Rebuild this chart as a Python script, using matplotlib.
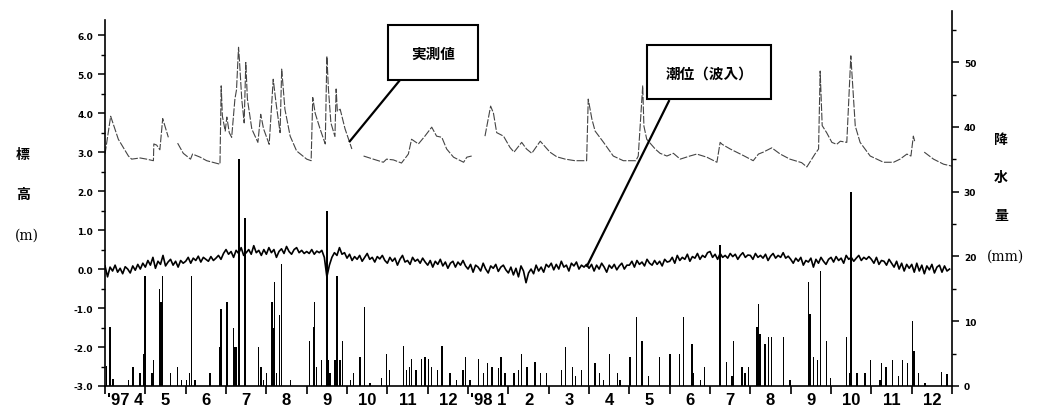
import numpy as np
import matplotlib
matplotlib.use("Agg")
import matplotlib.pyplot as plt
from matplotlib.patches import Rectangle

plt.rcParams['font.family'] = ['Noto Sans CJK JP', 'DejaVu Sans']

# time axis in months counted from 1 Apr 1997 (0) to 31 Dec 1998 (21)
month_labels = ["'97 4", "5", "6", "7", "8", "9", "10", "11", "12",
                "'98 1", "2", "3", "4", "5", "6", "7", "8", "9", "10", "11", "12"]

# measured groundwater level (m), NaN = missing record
meas_x = [0, 0.14, 0.33, 0.58, 0.66, 0.87, 1.03, 1.2, 1.21, 1.28, 1.36, 1.43, 1.57, 1.68,
          1.8, 1.94, 2.12, 2.17, 2.36, 2.52, 2.85, 2.88, 2.91, 2.98, 3.02, 3.08, 3.14, 3.22,
          3.26, 3.31, 3.33, 3.39, 3.45, 3.49, 3.53, 3.64, 3.79, 3.86, 3.93, 4.07, 4.17, 4.24,
          4.34, 4.38, 4.46, 4.59, 4.75, 5.0, 5.11, 5.15, 5.21, 5.33, 5.46, 5.5, 5.54, 5.6,
          5.7, 5.73, 5.76, 5.83, 5.95, 6.12, 6.25,
          6.41, 6.65, 6.9, 6.98, 7.15, 7.35, 7.52, 7.6, 7.77, 7.93, 8.1, 8.22, 8.35, 8.47,
          8.64, 8.89, 8.97, 9.09, 9.25,
          9.42, 9.56, 9.63, 9.71, 9.88, 10.04, 10.14, 10.33, 10.45, 10.58, 10.79, 11.03,
          11.2, 11.41, 11.65, 11.94, 11.98, 12.07, 12.15, 12.36, 12.6, 12.85, 13.16, 13.22,
          13.33, 13.36, 13.43, 13.64, 13.76, 13.93, 14.09, 14.26, 14.5, 14.67, 14.92, 15.17,
          15.25, 15.3, 15.5, 15.83, 16.07, 16.2, 16.32, 16.53, 16.74, 16.98, 17.27, 17.4,
          17.6, 17.69, 17.73, 17.78, 17.89, 18.02, 18.14, 18.23, 18.39, 18.49, 18.54, 18.6,
          18.72, 18.97, 19.3, 19.55, 19.71, 19.88, 19.98, 20.04, 20.08, 20.2,
          20.31, 20.54, 20.79, 21.0]
meas_y = [2.95, 3.92, 3.33, 2.9, 2.82, 2.85, 2.82, 2.78, 3.21, 3.18, 3.06, 3.86, 3.38, np.nan,
          3.23, 2.97, 2.82, 2.95, 2.87, 2.78, 2.69, 4.70, 3.92, 3.54, 3.9, 3.5, 3.38, 4.36,
          4.6, 5.69, 5.4, 4.36, 3.75, 5.3, 4.36, 3.59, 3.25, 3.97, 3.6, 3.2, 4.87, 4.26,
          3.5, 5.13, 4.1, 3.41, 3.03, 2.82, 2.78, 4.4, 4.0, 3.6, 3.21, 5.46, 4.6, 3.75,
          3.4, 4.62, 4.05, 4.1, 3.6, 3.08, np.nan,
          2.9, 2.82, 2.74, 2.82, 2.8, 2.72, 2.95, 3.33, 3.21, 3.41, 3.64, 3.41, 3.38, 3.08,
          2.87, 2.74, 2.87, 2.9, np.nan,
          3.41, 4.18, 4.0, 3.5, 3.41, 3.12, 3.0, 3.25, 3.08, 2.97, 3.28, 3.0,
          2.88, 2.82, 2.78, 2.78, 4.36, 3.85, 3.54, 3.25, 2.9, 2.78, 2.78, 2.9,
          4.7, 3.67, 3.33, 3.08, 2.97, 2.9, 2.97, 2.82, 2.9, 2.95, 2.87, 2.74,
          3.25, 3.2, 3.08, 2.91, 2.78, 2.95, 3.0, 3.11, 2.95, 2.82, 2.73, 2.62,
          2.95, 3.08, 5.08, 3.68, 3.5, 3.25, 3.2, 3.28, 3.25, 5.47, 4.65, 3.67,
          3.25, 2.9, 2.74, 2.74, 2.82, 2.95, 2.9, 3.41, 3.25, np.nan,
          3.0, 2.82, 2.69, 2.64]

# tide level (m), sixteen readings per month
tide_y = [
    0.08, -0.2, 0.05, -0.05, 0.1, -0.08, 0.02, -0.12, 0.06, 0.0, -0.1, 0.08, -0.03, 0.12, 0.0, 0.15,   # Apr 97
    0.05, 0.22, 0.1, 0.3, 0.02, 0.2, 0.12, 0.35, 0.08, 0.18, 0.25, 0.1, 0.2, 0.05, 0.22, 0.15,          # May
    0.2, 0.3, 0.15, 0.28, 0.22, 0.33, 0.18, 0.3, 0.25, 0.2, 0.32, 0.22, 0.28, 0.35, 0.25, 0.4,          # Jun
    0.5, 0.38, 0.45, 0.3, 0.48, 0.4, 0.55, 0.35, 0.42, 0.5, 0.38, 0.6, 0.42, 0.48, 0.35, 0.5,           # Jul
    0.38, 0.55, 0.42, 0.5, 0.3, 0.45, 0.52, 0.4, 0.58, 0.45, 0.38, 0.5, 0.55, 0.42, 0.48, 0.4,          # Aug
    0.45, 0.4, 0.5, 0.38, 0.46, 0.42, 0.48, 0.3, -0.2, 0.1, 0.3, 0.42, 0.35, 0.55, 0.38, 0.42,          # Sep
    0.28, 0.38, 0.22, 0.32, 0.25, 0.35, 0.2, 0.3, 0.4, 0.25, 0.3, 0.18, 0.32, 0.26, 0.35, 0.22,         # Oct
    0.15, 0.3, 0.2, 0.28, 0.1, 0.25, 0.35, 0.18, 0.22, 0.12, 0.3, 0.2, 0.25, 0.15, 0.28, 0.18,          # Nov
    0.1, 0.22, 0.05, 0.2, 0.12, 0.25, 0.08, 0.18, 0.02, 0.15, 0.2, 0.05, 0.18, 0.1, 0.22, 0.08,         # Dec
    0.0, 0.12, -0.08, 0.1, 0.05, -0.05, 0.15, 0.0, -0.1, 0.08, 0.02, 0.12, -0.06, 0.05, 0.1, -0.02,     # Jan 98
    -0.1, 0.05, -0.15, 0.02, -0.2, 0.08, -0.05, -0.35, -0.1, 0.0, -0.12, 0.1, -0.05, 0.05, -0.08, 0.12, # Feb
    0.05, 0.15, -0.02, 0.12, 0.0, 0.2, 0.05, 0.1, -0.05, 0.15, 0.08, 0.18, 0.0, 0.1, 0.05, 0.12,        # Mar
    0.02, 0.12, -0.05, 0.1, 0.0, 0.15, 0.05, -0.08, 0.1, 0.02, 0.12, -0.02, 0.08, 0.15, 0.0, 0.1,       # Apr
    0.1, 0.2, 0.05, 0.22, 0.12, 0.18, 0.08, 0.25, 0.15, 0.1, 0.22, 0.12, 0.2, 0.08, 0.25, 0.18,         # May
    0.2, 0.3, 0.15, 0.35, 0.22, 0.3, 0.25, 0.38, 0.2, 0.32, 0.28, 0.4, 0.25, 0.35, 0.3, 0.42,           # Jun
    0.45, 0.3, 0.38, 0.25, 0.4, 0.3, 0.35, 0.28, 0.4, 0.32, 0.38, 0.25, 0.35, 0.42, 0.3, 0.36,          # Jul
    0.35, 0.25, 0.4, 0.3, 0.35, 0.28, 0.38, 0.22, 0.33, 0.4, 0.28, 0.35, 0.3, 0.42, 0.28, 0.33,         # Aug
    0.25, 0.15, 0.28, 0.2, 0.3, 0.1, 0.22, 0.18, 0.28, 0.05, 0.25, 0.15, 0.3, 0.2, 0.12, 0.25,          # Sep
    0.3, 0.18, 0.32, 0.22, 0.28, 0.15, 0.35, 0.25, 0.3, 0.2, 0.28, 0.35, 0.22, 0.3, 0.25, 0.32,         # Oct
    0.25, 0.15, 0.3, 0.12, 0.22, 0.2, 0.1, 0.25, 0.15, 0.05, 0.2, 0.0, 0.15, -0.05, 0.12, 0.02,         # Nov
    0.12, -0.08, 0.15, -0.05, 0.1, -0.12, 0.08, -0.02, 0.12, -0.1, 0.05, 0.1, -0.08, 0.08, -0.05, 0.0,  # Dec
]
tide_x = np.arange(len(tide_y)) / 16.0

# daily rainfall (mm)
rain_x = [0.04, 0.12, 0.2, 0.58, 0.69, 0.87, 0.96, 0.99,
          1.16, 1.2, 1.35, 1.39, 1.41, 1.43, 1.63, 1.8, 1.9,
          2.02, 2.1, 2.15, 2.23, 2.6, 2.85, 2.88,
          3.02, 3.18, 3.2, 3.23, 3.26, 3.32, 3.47, 3.8, 3.87, 3.93,
          4.0, 4.14, 4.17, 4.2, 4.25, 4.33, 4.38, 4.6,
          5.07, 5.17, 5.2, 5.25, 5.37, 5.5, 5.53, 5.58, 5.7, 5.75, 5.83, 5.89,
          6.08, 6.16, 6.32, 6.43, 6.57, 6.86, 6.98,
          7.05, 7.4, 7.48, 7.55, 7.6, 7.71, 7.85, 7.93,
          8.02, 8.1, 8.24, 8.35, 8.55, 8.72, 8.87, 8.93,
          9.05, 9.26, 9.38, 9.48, 9.59, 9.75, 9.82, 9.92,
          10.14, 10.25, 10.33, 10.46, 10.66, 10.79, 10.95,
          11.31, 11.41, 11.59, 11.67, 11.82, 11.99,
          12.15, 12.26, 12.36, 12.51, 12.7, 12.77,
          13.02, 13.18, 13.31, 13.47, 13.74,
          14.01, 14.24, 14.34, 14.55, 14.59, 14.76, 14.86,
          15.25, 15.41, 15.54, 15.58, 15.79, 15.87, 15.95,
          16.16, 16.2, 16.24, 16.36, 16.45, 16.53, 16.82, 16.98,
          17.44, 17.48, 17.56, 17.66, 17.74, 17.89, 17.98,
          18.39, 18.47, 18.49, 18.64, 18.84, 18.98,
          19.21, 19.25, 19.36, 19.53, 19.67, 19.77, 19.9,
          20.02, 20.06, 20.17, 20.33, 20.74, 20.87]
rain_mm = [3.1, 9.1, 1.1, 1.0, 3.0, 2.0, 4.9, 17.0,
           2.0, 4.0, 15.0, 13.0, 8.5, 17.0, 2.0, 3.0, 1.0,
           1.0, 2.0, 17.0, 1.0, 2.0, 6.0, 11.9,
           13.0, 9.0, 6.0, 6.0, 6.0, 35.0, 26.0, 6.0, 3.0, 1.0,
           2.0, 13.0, 9.0, 16.0, 2.0, 10.9, 18.8, 1.0,
           7.0, 9.1, 13.0, 3.0, 4.0, 27.0, 4.0, 2.0, 4.0, 17.0, 4.0, 7.0,
           1.0, 2.0, 4.5, 12.2, 0.5, 1.2, 4.9,
           2.5, 6.2, 2.5, 3.0, 4.1, 2.5, 4.1, 4.5,
           4.1, 3.0, 2.5, 6.2, 2.0, 1.0, 2.5, 4.5,
           1.0, 4.1, 2.0, 3.5, 3.0, 2.8, 4.5, 2.0,
           2.0, 2.5, 4.9, 3.0, 3.7, 2.0, 2.0,
           2.5, 6.0, 3.0, 1.5, 2.5, 9.1,
           3.5, 2.0, 1.0, 4.9, 2.0, 1.0,
           4.5, 10.6, 7.0, 1.5, 4.5,
           4.9, 4.9, 10.6, 6.5, 2.0, 1.0, 3.0,
           21.7, 3.7, 1.5, 7.0, 3.0, 2.0, 3.0,
           9.1, 12.7, 8.0, 6.5, 7.5, 7.5, 7.5, 1.0,
           16.0, 11.1, 4.5, 4.0, 17.8, 7.0, 1.2,
           7.5, 2.0, 30.0, 2.0, 2.0, 4.0,
           1.0, 3.5, 3.0, 4.0, 1.5, 4.0, 3.5,
           10.0, 5.4, 2.0, 0.5, 2.2, 1.8]

fig = plt.figure(figsize=(10.46, 4.10), dpi=100)
ax = fig.add_axes([0.1004, 0.0561, 0.8098, 0.9146])
ax2 = ax.twinx()

ax2.bar(rain_x, rain_mm, width=0.035, color='black', linewidth=0)
ax.plot(meas_x, meas_y, color='#444444', lw=0.8, linestyle=(0, (7, 1.5)))
ax.plot(tide_x, tide_y, color='black', lw=1.2)

ax.set_xlim(0, 21)
ax.set_ylim(-3, 6.62)
ax2.set_ylim(0, 57.9)

for a in (ax, ax2):
    a.spines['top'].set_visible(False)
    for s in ('left', 'right', 'bottom'):
        a.spines[s].set_linewidth(1.2)
ax.spines['left'].set_bounds(-3, 6.38)
ax.spines['right'].set_visible(False)
ax2.spines['left'].set_visible(False)
ax2.spines['bottom'].set_visible(False)

# x axis: ticks on month boundaries, labels in the middle of each month
ax.set_xticks(np.arange(0, 22))
ax.set_xticklabels([])
ax.set_xticks(np.arange(21) + 0.5, minor=True)
ax.set_xticklabels(month_labels, minor=True, fontsize=12, fontweight='bold',
                   family=['Liberation Sans', 'DejaVu Sans'])
ax.tick_params(axis='x', which='major', direction='out', length=6, width=1.2)
ax.tick_params(axis='x', which='minor', length=0, pad=4)

ax.set_yticks(np.arange(-3, 7))
ax.set_yticklabels(['%.1f' % v for v in np.arange(-3, 7)], fontsize=6.5,
                   fontweight='bold', family=['DejaVu Sans'])
ax.set_yticks(np.arange(-2.5, 6.5, 1.0), minor=True)
ax.tick_params(axis='y', which='major', direction='out', length=5, width=1.1)
ax.tick_params(axis='y', which='minor', direction='out', length=3, width=1.0)

ax2.set_yticks(np.arange(0, 60, 10))
ax2.set_yticklabels([str(v) for v in range(0, 60, 10)], fontsize=6.5,
                    fontweight='bold', family=['DejaVu Sans'])
ax2.set_yticks(np.arange(5, 60, 10), minor=True)
ax2.tick_params(axis='y', which='major', direction='out', length=5, width=1.1)
ax2.tick_params(axis='y', which='minor', direction='out', length=3, width=1.0)

# axis titles written vertically, one character per line
for ch, yy in zip(['標', '高'], [155, 195]):
    fig.text(23 / 1046, 1 - yy / 410, ch, ha='center', va='center', fontsize=10, fontweight='bold')
fig.text(27 / 1046, 1 - 236 / 410, '(m)', ha='center', va='center', fontsize=10,
         family=['DejaVu Serif'])
for ch, yy in zip(['降', '水', '量'], [140, 178, 216]):
    fig.text(1001 / 1046, 1 - yy / 410, ch, ha='center', va='center', fontsize=10, fontweight='bold')
fig.text(1005 / 1046, 1 - 257 / 410, '(mm)', ha='center', va='center', fontsize=10,
         family=['DejaVu Serif'])

# labelled boxes with leader lines
ax.add_patch(Rectangle((7.02, 4.85), 2.23, 1.41, facecolor='white', edgecolor='black',
                       lw=1.5, zorder=5, clip_on=False))
ax.text(8.13, 5.55, '実測値', ha='center', va='center', fontsize=10.5, fontweight='bold', zorder=6)
ax.plot([7.29, 6.07], [4.82, 3.28], color='black', lw=1.6, zorder=4)

ax.add_patch(Rectangle((13.44, 4.36), 3.07, 1.38, facecolor='white', edgecolor='black',
                       lw=1.5, zorder=5, clip_on=False))
ax.text(14.98, 5.05, '潮位（波入）', ha='center', va='center', fontsize=10.5, fontweight='bold', zorder=6)
ax.plot([13.98, 11.95], [4.31, 0.08], color='black', lw=1.6, zorder=4)

fig.savefig('out.png', dpi=100)
